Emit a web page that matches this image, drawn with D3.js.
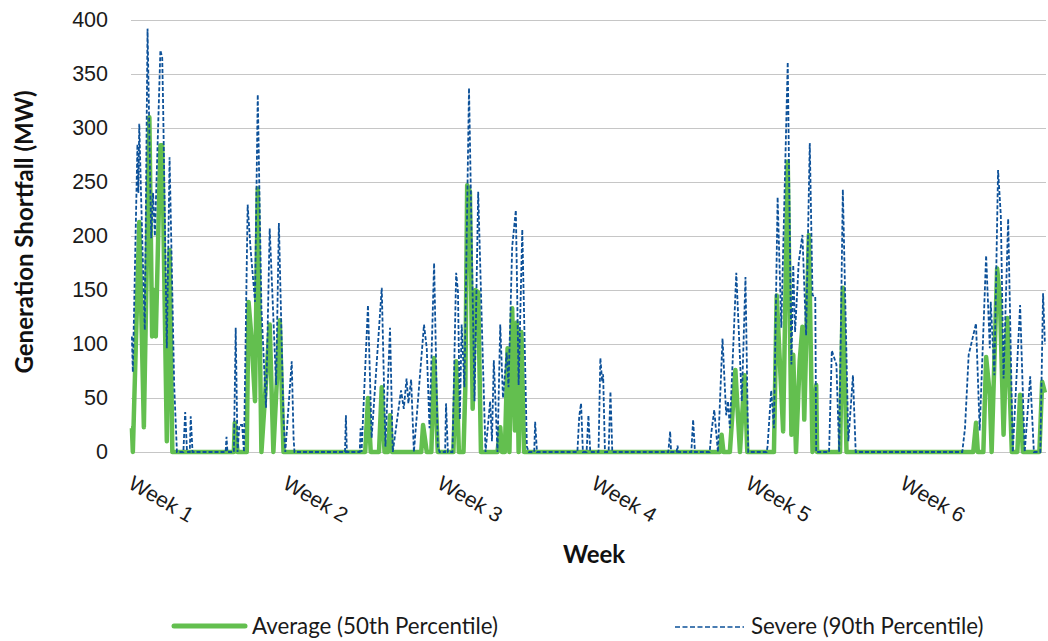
<!DOCTYPE html>
<html>
<head>
<meta charset="utf-8">
<script src="https://cdn.jsdelivr.net/npm/d3@7"></script>
<style>
  body { margin: 0; background: #fff; }
  svg { display: block; font-family: Lato, "Open Sans", sans-serif; }
  .grid line { stroke: #c6c6c6; stroke-width: 1.2; }
  .y-axis text { font-size: 21.5px; fill: #1a1a1a; }
  .x-axis text { font-size: 21px; fill: #1a1a1a; }
  .title { font-weight: bold; font-size: 24px; fill: #111; }
  .legend text { font-size: 22.3px; fill: #1a1a1a; }
</style>
</head>
<body>
<div class="chart"></div>
<script>

// week tick labels (one every 168 hours)
const weekLabels = ['Week 1', 'Week 2', 'Week 3', 'Week 4', 'Week 5', 'Week 6']
const weekHours = [0, 168, 336, 504, 672, 840]
const yTicks = [0, 50, 100, 150, 200, 250, 300, 350, 400]

// Average (50th percentile) - hour / MW
const avgHours = [0,1,2,9,14,20,23,25,27,32,34,39,42,45,112,113,116,126,128,131,135,138,142,151,155,162,166,
  255,258,261,270,273,276,280,282,284,316,318,322,327,330,334,351,354,357,362,364,366,369,372,375,378,381,
  399,402,404,407,410,412,415,418,420,422,425,428,641,643,645,652,658,663,668,671,700,703,710,715,719,721,
  724,728,731,733,738,742,746,747,772,775,779,917,920,922,928,931,935,937,943,946,950,954,959,965,968,971,
  989,992,995]
const avgValues = [22,22,0,213,23,310,107,150,107,284,284,10,187,0,0,27,0,0,139,108,47,244,0,118,0,122,0,
  0,50,0,0,60,0,0,34,0,0,25,0,0,87,0,0,84,0,0,60,247,241,40,150,148,0,
  0,23,0,0,96,0,133,20,120,0,111,0,0,16,0,0,76,0,71,0,0,145,19,269,16,90,
  0,84,116,30,201,0,62,0,0,152,0,0,27,0,0,88,53,0,170,142,16,124,0,0,53,0,
  0,65,55]

// Severe (90th percentile) - hour / MW
const severeHours = [1,2,7,8,9,11,15,18,22,24,26,32,34,35,39,42,47,50,57,59,61,64,65,67,103,104,105,112,114,116,118,121,123,
  127,130,135,138,142,147,151,158,161,166,168,175,177,178,233,234,235,249,250,251,258,262,273,277,282,285,
  294,297,300,302,305,308,319,322,325,330,334,336,342,343,345,350,354,356,358,360,363,368,374,378,383,386,
  391,393,395,399,402,405,409,411,415,419,422,426,431,433,439,440,442,486,488,490,492,496,498,500,509,511,
  513,514,516,520,522,524,585,587,588,594,595,596,610,612,614,630,632,635,639,644,648,650,652,659,665,669,
  672,692,693,697,700,704,708,715,719,721,723,727,731,735,739,742,745,746,760,763,768,771,775,781,786,789,
  905,908,912,920,924,931,935,936,940,944,947,950,955,960,968,973,979,983,990,993,995]
const severeValues = [107,74,285,240,304,236,113,392,198,240,200,372,365,320,96,273,62,0,0,37,0,0,33,0,0,14,0,0,115,0,25,25,0,
  229,190,139,331,133,41,207,62,212,31,0,84,13,0,0,34,0,0,22,0,136,13,152,5,115,0,
  57,40,68,45,67,0,118,96,22,175,5,0,0,45,0,0,166,148,30,118,60,337,47,241,87,0,
  47,10,85,0,118,50,92,60,190,224,62,206,5,0,0,28,0,0,33,45,0,0,34,0,0,87,
  65,72,0,0,56,0,0,19,0,0,6,0,0,30,0,0,19,39,0,105,34,47,22,166,47,162,
  0,0,5,57,22,236,115,361,81,173,111,176,201,108,286,145,144,0,0,94,81,0,243,10,71,0,
  0,22,90,119,20,182,96,139,71,261,219,68,216,0,136,0,70,0,0,147,100]

const avgSeries = avgHours.map((h, i) => ({ h: h, v: avgValues[i] }))
const severeSeries = severeHours.map((h, i) => ({ h: h, v: severeValues[i] }))

const width = 1048
const height = 641
const plotLeft = 131
const plotRight = 1046
const plotTop = 20
const plotBottom = 452

let svg = d3.select('.chart').append('svg')
  .attr('width', width)
  .attr('height', height)

let x = d3.scaleLinear()
  .domain([0, 1008])
  .range([plotLeft, plotLeft + 1008 * 0.9185])

let y = d3.scaleLinear()
  .domain([0, 400])
  .range([plotBottom, plotTop])

// gridlines
svg.append('g')
  .attr('class', 'grid')
  .selectAll('line')
  .data(yTicks)
  .enter()
  .append('line')
  .attr('x1', plotLeft)
  .attr('x2', plotRight)
  .attr('y1', d => Math.round(y(d)) + 0.5)
  .attr('y2', d => Math.round(y(d)) + 0.5)

// y axis labels
let yAxis = svg.append('g')
  .attr('class', 'y-axis')
  .attr('transform', 'translate(' + (plotLeft - 23) + ',0)')
  .call(d3.axisLeft(y).tickValues(yTicks).tickSize(0).tickPadding(0))

yAxis.select('.domain').remove()
yAxis.selectAll('text').attr('font-family', null).attr('font-size', null)

// x axis labels, rotated 30deg from the tick
let xAxis = svg.append('g')
  .attr('class', 'x-axis')
  .attr('transform', 'translate(0,' + plotBottom + ')')
  .call(d3.axisBottom(x).tickValues(weekHours).tickSize(0).tickFormat((d, i) => weekLabels[i]))

xAxis.select('.domain').remove()
xAxis.selectAll('text')
  .attr('font-family', null).attr('font-size', null)
  .attr('y', 0).attr('dy', '0.8em')
  .attr('text-anchor', 'start')
  .attr('transform', 'translate(4,21) rotate(30)')

// titles
svg.append('text')
  .attr('class', 'title')
  .attr('text-anchor', 'middle')
  .attr('transform', 'translate(33,232) rotate(-90)')
  .text('Generation Shortfall (MW)')

svg.append('text')
  .attr('class', 'title')
  .attr('text-anchor', 'middle')
  .attr('x', 594)
  .attr('y', 563)
  .text('Week')

// lines
let line = d3.line()
  .x(d => x(d.h))
  .y(d => y(d.v))

svg.append('path')
  .datum(avgSeries)
  .attr('d', line)
  .attr('fill', 'none')
  .attr('stroke', '#63bf4f')
  .attr('stroke-width', 4.5)
  .attr('stroke-linejoin', 'round')

svg.append('path')
  .datum(severeSeries)
  .attr('d', line)
  .attr('fill', 'none')
  .attr('stroke', '#0d5199')
  .attr('stroke-width', 1.8)
  .attr('stroke-dasharray', '4,2')

// legend
let legend = svg.append('g').attr('class', 'legend')

legend.append('line')
  .attr('x1', 174).attr('x2', 245)
  .attr('y1', 626).attr('y2', 626)
  .attr('stroke', '#63bf4f')
  .attr('stroke-width', 5)
  .attr('stroke-linecap', 'round')

legend.append('text')
  .attr('x', 252).attr('y', 634)
  .text('Average (50th Percentile)')

legend.append('line')
  .attr('x1', 675).attr('x2', 744)
  .attr('y1', 627).attr('y2', 627)
  .attr('stroke', '#0d5199')
  .attr('stroke-width', 1.6)
  .attr('stroke-dasharray', '5,2.5')

legend.append('text')
  .attr('x', 751).attr('y', 634)
  .text('Severe (90th Percentile)')

</script>
</body>
</html>
